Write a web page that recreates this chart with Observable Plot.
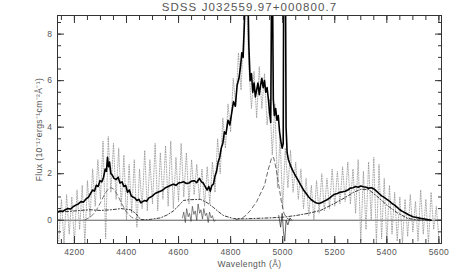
<!DOCTYPE html>
<html><head><meta charset="utf-8">
<script src="https://cdn.jsdelivr.net/npm/d3@7"></script>
<script src="https://cdn.jsdelivr.net/npm/@observablehq/plot@0.6"></script>
<style>body{margin:0;background:#fff;} svg{display:block;}</style>
</head><body><div id="chart"></div>
<script>
const title = "SDSS J032559.97+000800.7";
const xLabel = "Wavelength (Å)";
const yLabel = "Flux (10⁻¹⁷ergs⁻¹cm⁻²Å⁻¹)";
const xTicks = [4200, 4400, 4600, 4800, 5000, 5200, 5400, 5600];
const yTicks = [0, 2, 4, 6, 8];

// thick solid: observed (smoothed) spectrum
const thickWave = [4135,4145,4155,4165,4175,4185,4195,4205,4215,4225,4235,4245,4255,4262,4270,4277,4284,4291,4298,4305,4312,4318,4323,4327,4331,4335,4340,4345,4352,4360,4368,4375,4383,4390,4397,4404,4411,4418,4425,4433,4440,4448,4455,4462,4470,4478,4485,4493,4500,4510,4520,4530,4540,4550,4560,4570,4580,4590,4600,4610,4620,4630,4640,4650,4660,4670,4680,4688,4695,4702,4710,4716,4722,4728,4734,4740,4746,4752,4758,4764,4770,4776,4782,4790,4797,4804,4811,4818,4825,4832,4838,4843,4848,4852,4856,4861,4866,4870,4875,4880,4885,4890,4895,4900,4905,4910,4915,4920,4925,4930,4935,4940,4945,4950,4954,4959,4964,4968,4973,4978,4983,4988,4993,4998,5002,5005,5009,5013,5017,5022,5030,5040,5050,5060,5070,5080,5090,5100,5110,5120,5130,5140,5150,5160,5170,5180,5190,5200,5210,5220,5230,5240,5250,5260,5270,5280,5290,5300,5310,5320,5330,5340,5350,5360,5370,5380,5390,5400,5410,5420,5430,5440,5450,5460,5470,5480,5490,5500,5515,5530,5545,5560,5570];
const thickFlux = [0.35,0.4,0.38,0.45,0.5,0.48,0.58,0.65,0.7,0.8,0.78,0.92,1.0,1.15,1.3,1.25,1.5,1.45,1.7,1.65,1.85,2.2,2.1,2.7,2.3,2.5,2.0,1.95,1.8,1.75,1.85,1.6,1.65,1.45,1.5,1.2,1.3,1.05,1.0,0.95,0.85,0.9,0.75,0.8,0.85,0.82,0.95,1.0,1.05,1.15,1.2,1.25,1.3,1.4,1.45,1.5,1.55,1.5,1.6,1.62,1.65,1.58,1.6,1.68,1.7,1.62,1.8,1.65,1.6,1.45,1.3,1.45,1.25,1.5,1.55,1.9,2.1,2.5,2.7,3.1,3.3,3.8,3.7,4.3,4.1,4.6,5.1,4.9,5.8,6.1,6.6,7.2,7.0,8.2,9.5,13,10,7.5,6.0,6.3,5.5,5.9,5.3,5.6,5.9,5.4,5.8,6.1,5.7,6.0,5.5,5.7,5.2,4.6,4.2,13,5.2,4.5,4.8,4.3,4.5,3.8,3.4,3.1,3.3,15,15,4.0,2.9,2.6,2.35,2.1,1.9,1.7,1.5,1.3,1.15,1.0,0.88,0.8,0.74,0.72,0.76,0.82,0.88,0.95,1.05,1.12,1.15,1.2,1.22,1.25,1.3,1.38,1.4,1.45,1.42,1.47,1.44,1.42,1.38,1.4,1.35,1.25,1.15,1.05,0.98,0.9,0.82,0.72,0.65,0.55,0.45,0.38,0.32,0.26,0.2,0.15,0.12,0.08,0.05,0.02,0.0,0.01,0.02,0.0,0.01,0.0];

// dotted: raw spectrum, 10 Å sampling from 4140
const rawFlux = [-0.9,0.9,-1.0,1.1,-0.6,1.0,-1.0,1.3,-0.4,1.5,-1.0,1.7,0.1,2.2,0.6,2.6,0.9,3.4,-0.8,3.6,1.2,3.3,0.9,3.1,0.6,2.8,0.0,2.4,0.3,2.6,-0.3,2.2,0.5,3.0,0.4,2.6,0.7,3.3,0.4,2.9,0.9,3.2,0.6,3.4,0.5,2.7,0.8,3.3,1.0,2.9,0.7,2.6,1.1,2.4,0.9,2.2,0.6,2.3,0.7,2.5,1.2,3.5,2.0,4.4,3.1,5.0,3.8,6.1,4.9,7.2,5.6,8.1,10,6.6,4.8,6.4,4.4,6.6,4.8,6.3,4.1,5.2,2.8,5.0,1.4,3.6,0.5,3.1,1.4,3.0,1.2,2.5,0.9,2.2,0.5,1.8,0.2,1.5,0.0,1.7,0.3,2.0,0.4,1.8,0.5,2.2,0.6,2.1,0.7,2.3,0.8,2.5,0.7,2.2,0.3,2.6,-0.9,2.1,-0.4,2.5,0.0,2.7,-1.0,2.4,-0.8,1.8,-1.0,1.5,-0.6,1.2,-0.9,1.0,-1.0,0.9,-0.7,1.1,-0.5,0.8,-0.9,1.3,-0.6,0.9,-1.0,1.2,-0.4,0.6,-0.8];
const rawWave = d3.range(rawFlux.length).map(i => 4140 + 10 * i);

// dash-dot: Fe II template
const feWave = [4135,4180,4220,4260,4300,4340,4380,4415,4435,4454,4480,4530,4555,4580,4600,4619,4640,4684,4710,4734,4755,4773,4811,4850,4900,4950,5000,5050,5100,5145,5195,5241,5272,5300,5330,5360,5400,5440,5480,5520,5570];
const feFlux = [0.35,0.38,0.42,0.45,0.42,0.45,0.5,0.45,0.3,0.03,0.02,0.1,0.22,0.4,0.62,0.85,0.88,0.9,0.75,0.55,0.35,0.2,0.07,0.06,0.08,0.1,0.13,0.2,0.3,0.42,0.7,0.98,1.2,1.33,1.32,1.05,0.65,0.32,0.08,0.01,0.0];

// dashed: Gaussian components
const hgWave = [4240,4260,4280,4300,4315,4330,4340,4350,4365,4380,4400,4420,4445];
const hgFlux = [0.02,0.12,0.35,0.75,1.1,1.35,1.4,1.35,1.1,0.75,0.35,0.12,0.02];
const brWave = [4820,4845,4860,4876,4900,4930,4945,4958,4965,4975,4985,4995,5005,5015,5030];
const brFlux = [0.02,0.1,0.22,0.42,0.8,1.5,2.2,2.7,2.7,2.2,1.5,0.8,0.3,0.1,0.0];

// thin noisy residual pieces
const resWave1 = [4615,4620,4626,4631,4637,4642,4648,4653,4659,4664,4670,4675,4681,4686,4692,4697,4703,4708,4714,4719,4725,4730,4736,4742];
const resFlux1 = [0.1,0.35,-0.1,0.5,0.15,0.3,-0.05,0.6,0.25,0.4,0.0,0.7,0.3,0.45,0.05,0.5,0.2,0.3,-0.1,0.35,0.1,0.2,-0.05,0.0];
const resWave2 = [4985,4992,4998,5003,5008,5013,5020,5028,5035];
const resFlux2 = [0.2,-0.3,0.3,-0.5,-0.9,0.0,-0.2,0.1,0.0];

const zip = (w, f) => w.map((x, i) => ({x, y: f[i]}));
const xMinor = d3.range(4150, 5601, 50);
const yMinor = d3.range(-1, 8.81, 0.5);
const ink = "#333";
const textFill = "#555";

const chart = Plot.plot({
  width: 458, height: 273,
  marginLeft: 57, marginRight: 17, marginTop: 15, marginBottom: 30,
  style: {fontFamily: "'Liberation Sans', Arial, sans-serif", fontSize: "8.5px", letterSpacing: "0.4px", background: "#fff"},
  x: {domain: [4135, 5610]},
  y: {domain: [-1, 8.8]},
  marks: [
    Plot.ruleY([0], {stroke: ink, strokeWidth: 0.8}),
    Plot.line(zip(rawWave, rawFlux), {x: "x", y: "y", stroke: "#888", strokeWidth: 0.7, strokeDasharray: "1,1.5", clip: true}),
    Plot.line(zip(hgWave, hgFlux), {x: "x", y: "y", stroke: "#555", strokeWidth: 0.8, strokeDasharray: "4,3", clip: true}),
    Plot.line(zip(brWave, brFlux), {x: "x", y: "y", stroke: "#444", strokeWidth: 0.8, strokeDasharray: "4,3", clip: true}),
    Plot.line(zip(feWave, feFlux), {x: "x", y: "y", stroke: "#222", strokeWidth: 0.9, strokeDasharray: "3,2,1,2", clip: true}),
    Plot.line(zip(resWave1, resFlux1), {x: "x", y: "y", stroke: "#333", strokeWidth: 0.6, clip: true}),
    Plot.line(zip(resWave2, resFlux2), {x: "x", y: "y", stroke: "#222", strokeWidth: 0.7, clip: true}),
    Plot.line(zip(thickWave, thickFlux), {x: "x", y: "y", stroke: "#000", strokeWidth: 1.6, clip: true}),
    Plot.frame({stroke: ink, strokeWidth: 1}),
    // inward ticks, all four sides
    Plot.axisX({anchor: "bottom", ticks: xTicks, tickSize: -7, fill: "none", label: null, stroke: ink}),
    Plot.axisX({anchor: "bottom", ticks: xMinor, tickSize: -4, fill: "none", label: null, stroke: ink}),
    Plot.axisX({anchor: "top", ticks: xTicks, tickSize: -7, fill: "none", label: null, stroke: ink}),
    Plot.axisX({anchor: "top", ticks: xMinor, tickSize: -4, fill: "none", label: null, stroke: ink}),
    Plot.axisY({anchor: "left", ticks: yTicks, tickSize: -7, fill: "none", label: null, stroke: ink}),
    Plot.axisY({anchor: "left", ticks: yMinor, tickSize: -4, fill: "none", label: null, stroke: ink}),
    Plot.axisY({anchor: "right", ticks: yTicks, tickSize: -7, fill: "none", label: null, stroke: ink}),
    Plot.axisY({anchor: "right", ticks: yMinor, tickSize: -4, fill: "none", label: null, stroke: ink}),
    // labels
    Plot.axisX({anchor: "bottom", ticks: xTicks, tickSize: 0, tickPadding: 5, tickFormat: d => String(d), fill: textFill,
      label: xLabel, labelAnchor: "center", labelOffset: 23, labelArrow: "none"}),
    Plot.axisY({anchor: "left", ticks: yTicks, tickSize: 0, tickPadding: 5, tickFormat: d => String(d), fill: textFill,
      label: yLabel, labelAnchor: "center", labelOffset: 22, labelArrow: "none"}),
    Plot.text([title], {frameAnchor: "top", lineAnchor: "middle", dy: -8, fill: textFill, fontSize: 11.5})
  ]
});
d3.select(chart).selectAll('g[aria-label="text"] text').style("letter-spacing", "1.1px");
document.getElementById("chart").appendChild(chart);
</script></body></html>
